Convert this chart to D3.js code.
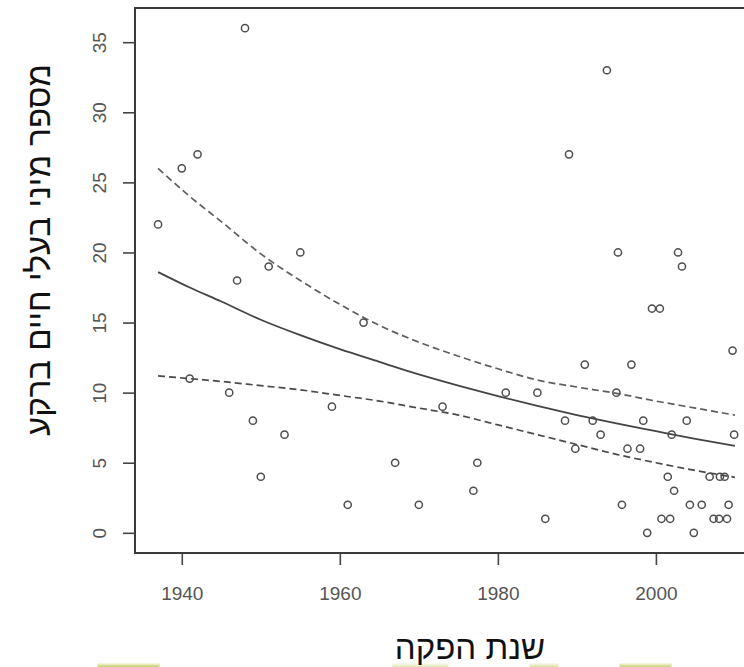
<!DOCTYPE html>
<html>
<head>
<meta charset="utf-8">
<script src="https://cdn.jsdelivr.net/npm/d3@7"></script>
<style>
  html, body { margin: 0; padding: 0; background: #ffffff; }
  svg { display: block; }
</style>
</head>
<body>
<svg id="chart" width="744" height="667"></svg>
<script>
// ---- data ----
const years  = [1937,1940,1941,1942,1946,1947,1948,1949,1950,1951,1953,1955,1959,1961,1963,1967,1970,1973,1976.9,1977.4,
                1981,1985,1986,1988.5,1989,1989.8,1991,1992,1993,1993.8,1995,1995.2,1995.7,1996.4,1996.9,1998,1998.4,1998.9,
                1999.5,2000.5,2000.7,2001.5,2001.8,2002,2002.3,2002.8,2003.3,2003.9,2004.3,2004.8,2005.8,2006.8,2007.3,2008,
                2008.1,2008.7,2009,2009.2,2009.7,2009.9];
const counts = [22,26,11,27,10,18,36,8,4,19,7,20,9,2,15,5,2,9,3,5,
                10,10,1,8,27,6,12,8,7,33,10,20,2,6,12,6,8,0,
                16,16,1,4,1,7,3,20,19,8,2,0,2,4,1,1,
                4,4,1,2,13,7];

const fitYears = [1937,1941,1945,1950,1955,1960,1965,1970,1975,1980,1985,1990,1995,2000,2005,2010];
const fitMid   = [18.6,17.5,16.5,15.2,14.1,13.1,12.2,11.3,10.5,9.75,9.05,8.4,7.8,7.25,6.7,6.2];
const fitUpper = [26.0,24.0,22.2,19.9,18.0,16.3,14.8,13.6,12.6,11.7,10.9,10.4,9.95,9.4,8.9,8.4];
const fitLower = [11.2,11.0,10.8,10.5,10.2,9.8,9.4,8.9,8.4,7.7,7.0,6.3,5.6,5.0,4.45,3.96];

const xTicks = [1940,1960,1980,2000];
const yTicks = [0,5,10,15,20,25,30,35];

const xTitle = "שנת הפקה";
const yTitle = "מספר מיני בעלי חיים ברקע";

// ---- drawing ----
(function () {
const svg = d3.select("#chart");
const pL = 135, pR = 758, pT = 8, pB = 553;

const x = d3.scaleLinear().domain([1934.08, 2012.92]).range([pL, pR]);
const y = d3.scaleLinear().domain([-1.44, 37.44]).range([pB, pT]);

// decorative yellow-green strip at the very bottom (cropped image edge)
const defs = svg.append("defs");
const grad = defs.append("linearGradient").attr("id", "gstrip").attr("x1", 0).attr("x2", 0).attr("y1", 0).attr("y2", 1);
grad.append("stop").attr("offset", "0%").attr("stop-color", "#c9d36a").attr("stop-opacity", 0.2);
grad.append("stop").attr("offset", "100%").attr("stop-color", "#aebd35").attr("stop-opacity", 1);
const strip = svg.append("g");
[[97,160,0.8],[392,449,0.4],[529,559,0.5],[619,672,0.75]].forEach(s => {
  strip.append("rect").attr("x", s[0]).attr("y", 663).attr("width", s[1]-s[0]).attr("height", 4)
    .attr("rx", 2).attr("fill", "url(#gstrip)").attr("opacity", s[2]);
});

const tickColor = "#444";
const labelColor = "#555";
const fontTicks = "'Liberation Sans', Arial, sans-serif";

const xAxis = svg.append("g").attr("transform", `translate(0,${pB})`)
  .call(d3.axisBottom(x).tickValues(xTicks).tickSize(12).tickPadding(22).tickFormat(d3.format("d")));
xAxis.select(".domain").remove();
xAxis.selectAll("line").attr("stroke", tickColor).attr("stroke-width", 1.6);
xAxis.selectAll("text").attr("fill", labelColor).style("font-family", fontTicks).style("font-size", "19px");

const yAxis = svg.append("g").attr("transform", `translate(${pL},0)`)
  .call(d3.axisLeft(y).tickValues(yTicks).tickSize(12).tickPadding(0).tickFormat(d3.format("d")));
yAxis.select(".domain").remove();
yAxis.selectAll("line").attr("stroke", tickColor).attr("stroke-width", 1.6);
yAxis.selectAll("text")
  .attr("fill", labelColor).style("font-family", fontTicks).style("font-size", "19px")
  .attr("x", null)
  .attr("text-anchor", "middle")
  .attr("transform", "translate(-36,0) rotate(-90)")
  .attr("dy", "0.35em");

// plot box
svg.append("rect").attr("x", pL).attr("y", pT).attr("width", pR-pL).attr("height", pB-pT)
  .attr("fill", "none").attr("stroke", "#3a3a3a").attr("stroke-width", 2);

// fit and confidence lines
const line = d3.line().x((d,i) => x(fitYears[i])).y(d => y(d)).curve(d3.curveMonotoneX);
svg.append("path").attr("d", line(fitUpper)).attr("fill", "none")
  .attr("stroke", "#5e5e5e").attr("stroke-width", 1.7).attr("stroke-dasharray", "7,4");
svg.append("path").attr("d", line(fitLower)).attr("fill", "none")
  .attr("stroke", "#4a4a4a").attr("stroke-width", 1.7).attr("stroke-dasharray", "7,4");
svg.append("path").attr("d", line(fitMid)).attr("fill", "none")
  .attr("stroke", "#444").attr("stroke-width", 1.8);

// points
svg.append("g").selectAll("circle").data(years).join("circle")
  .attr("cx", d => x(d)).attr("cy", (d,i) => y(counts[i])).attr("r", 3.6)
  .attr("fill", "none").attr("stroke", "#4d4d4d").attr("stroke-width", 1.5);

// axis titles
const fontTitle = "'Liberation Sans', Arial, 'DejaVu Sans', sans-serif";
svg.append("text").attr("x", 470).attr("y", 659).attr("text-anchor", "middle")
  .attr("direction", "rtl")
  .style("font-family", fontTitle).style("font-size", "33px").attr("fill", "#111").text(xTitle);
svg.append("text").attr("transform", "translate(50,250) rotate(-90)").attr("text-anchor", "middle")
  .attr("direction", "rtl")
  .style("font-family", fontTitle).style("font-size", "33px").attr("fill", "#111").text(yTitle);
})();
</script>
</body>
</html>
